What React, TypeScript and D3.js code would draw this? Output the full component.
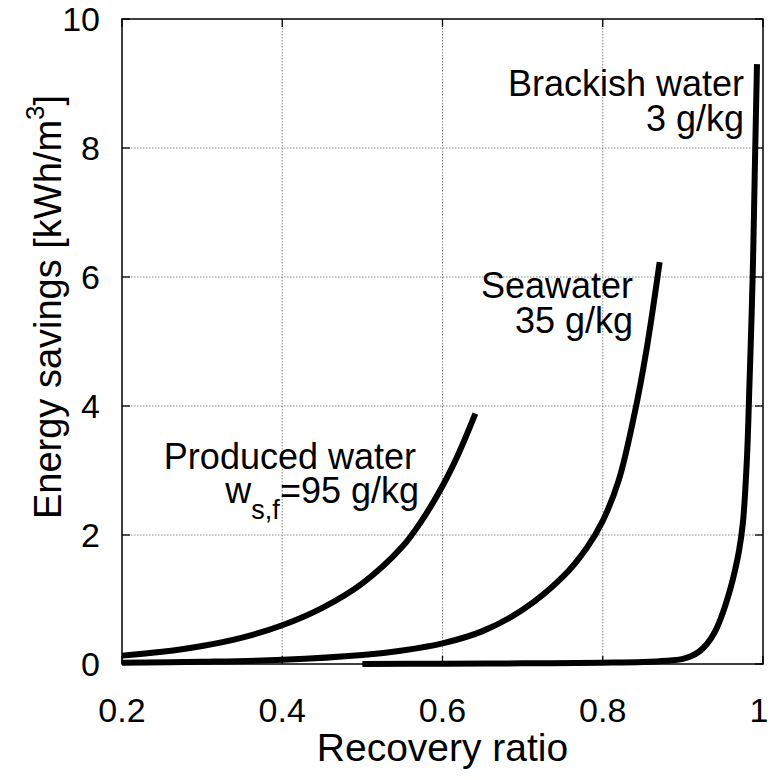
import React from "react";
import * as d3 from "d3";

const producedX = [0.2, 0.25, 0.3, 0.35, 0.4, 0.45, 0.5, 0.55, 0.575, 0.6, 0.62, 0.641];
const producedY = [0.13, 0.19, 0.28, 0.41, 0.6, 0.87, 1.25, 1.82, 2.24, 2.76, 3.26, 3.88];

const seawaterX = [0.2, 0.3, 0.4, 0.5, 0.55, 0.6, 0.65, 0.7, 0.75, 0.78, 0.8, 0.82, 0.84, 0.855, 0.871];
const seawaterY = [0.02, 0.035, 0.065, 0.14, 0.21, 0.32, 0.51, 0.84, 1.35, 1.8, 2.22, 2.85, 3.9, 4.9, 6.23];

const brackishX = [0.5, 0.6, 0.7, 0.8, 0.85, 0.88, 0.9, 0.91, 0.92, 0.93, 0.94, 0.95, 0.96, 0.965, 0.97, 0.975, 0.98, 0.983, 0.986, 0.988, 0.99, 0.9925];
const brackishY = [0.0, 0.005, 0.01, 0.02, 0.03, 0.05, 0.08, 0.12, 0.19, 0.31, 0.5, 0.8, 1.2, 1.45, 1.75, 2.2, 3.2, 4.3, 5.5, 6.5, 7.8, 9.3];

const xTicks = [0.2, 0.4, 0.6, 0.8, 1];
const yTicks = [0, 2, 4, 6, 8, 10];

const W = 770, H = 780;
const L = 122, R = 763, T = 19, B = 664;
const FONT = "'Liberation Sans', Arial, Helvetica, sans-serif";

export default function App() {
  const x = d3.scaleLinear().domain([0.2, 1]).range([L, R]);
  const y = d3.scaleLinear().domain([0, 10]).range([B, T]);
  const line = d3.line<[number, number]>()
    .x(d => x(d[0])).y(d => y(d[1]))
    .curve(d3.curveCatmullRom.alpha(0.5));
  const series = [
    producedX.map((v, i) => [v, producedY[i]] as [number, number]),
    seawaterX.map((v, i) => [v, seawaterY[i]] as [number, number]),
    brackishX.map((v, i) => [v, brackishY[i]] as [number, number]),
  ];
  const tickLen = 8;
  return (
    <svg width={W} height={H} style={{ position: "absolute", left: 0, top: 0, background: "#fff" }} fontFamily={FONT}>
      <rect x={0} y={0} width={W} height={H} fill="#fff" />
      {xTicks.slice(1, -1).map(t => (
        <line key={"gx" + t} x1={x(t)} x2={x(t)} y1={T} y2={B} stroke="#888" strokeWidth={1} strokeDasharray="1.5,1.5" />
      ))}
      {yTicks.slice(1, -1).map(t => (
        <line key={"gy" + t} x1={L} x2={R} y1={y(t)} y2={y(t)} stroke="#888" strokeWidth={1} strokeDasharray="1.5,1.5" />
      ))}
      {xTicks.map(t => (
        <g key={"tx" + t}>
          <line x1={x(t)} x2={x(t)} y1={B} y2={B - tickLen} stroke="#000" strokeWidth={1.3} />
          <line x1={x(t)} x2={x(t)} y1={T} y2={T + tickLen} stroke="#000" strokeWidth={1.3} />
          <text x={t === 1 ? x(t) - 4 : x(t)} y={B + 58} textAnchor="middle" fontSize={34}>{t.toString()}</text>
        </g>
      ))}
      {yTicks.map(t => (
        <g key={"ty" + t}>
          <line x1={L} x2={L + tickLen} y1={y(t)} y2={y(t)} stroke="#000" strokeWidth={1.3} />
          <line x1={R} x2={R - tickLen} y1={y(t)} y2={y(t)} stroke="#000" strokeWidth={1.3} />
          <text x={L - 22} y={y(t) + 12} textAnchor="end" fontSize={34}>{t}</text>
        </g>
      ))}
      {series.map((s, i) => (
        <path key={"s" + i} d={line(s) || ""} fill="none" stroke="#000" strokeWidth={6} strokeLinecap="butt" strokeLinejoin="round" />
      ))}
      <rect x={L} y={T} width={R - L} height={B - T} fill="none" stroke="#000" strokeWidth={1.5} />
      <text x={744} y={96} textAnchor="end" fontSize={36}>Brackish water</text>
      <text x={744} y={131} textAnchor="end" fontSize={36}>3 g/kg</text>
      <text x={633} y={298} textAnchor="end" fontSize={36}>Seawater</text>
      <text x={633} y={333} textAnchor="end" fontSize={36}>35 g/kg</text>
      <text x={416} y={469} textAnchor="end" fontSize={36}>Produced water</text>
      <text x={419} y={503} textAnchor="end" fontSize={36}>
        <tspan>w</tspan>
        <tspan fontSize={27} dy={16}>s,f</tspan>
        <tspan dy={-16}>=95 g/kg</tspan>
      </text>
      <text x={(L + R) / 2} y={761} textAnchor="middle" fontSize={39}>Recovery ratio</text>
      <text transform={`translate(61, 307) rotate(-90)`} textAnchor="middle" fontSize={38}>
        <tspan>Energy savings [kWh/m</tspan>
        <tspan fontSize={26} dy={-17}>3</tspan>
        <tspan dy={17}>]</tspan>
      </text>
    </svg>
  );
}
